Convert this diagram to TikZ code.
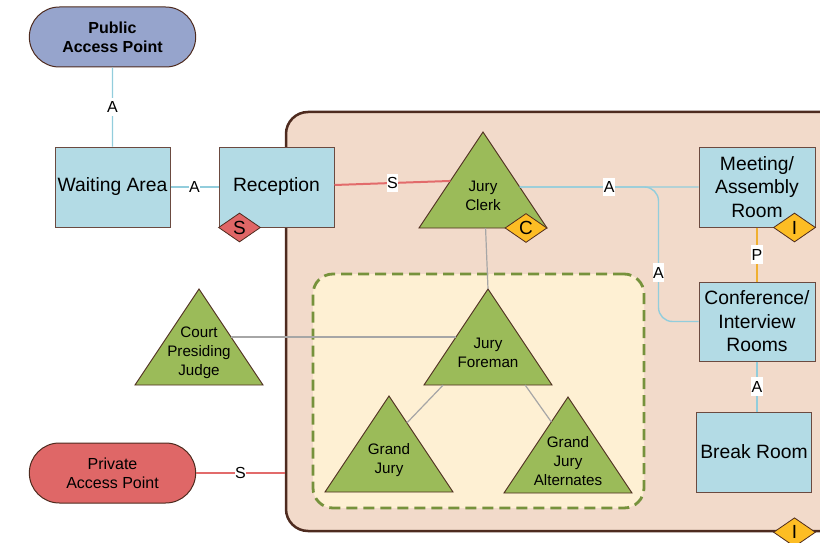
\documentclass[tikz,border=0pt]{standalone}
\usepackage{fontspec}
\setmainfont{Liberation Sans}
\usetikzlibrary{shapes.geometric,shapes.misc,calc}

\definecolor{roomfill}{HTML}{B3DBE5}
\definecolor{edgebrown}{HTML}{6B4A40}
\definecolor{darkbrown}{HTML}{4E2B1F}
\definecolor{zonefill}{HTML}{F2DACA}
\definecolor{juryfill}{HTML}{FEF0D3}
\definecolor{juryedge}{HTML}{76923C}
\definecolor{rolefill}{HTML}{9BBB59}
\definecolor{publicfill}{HTML}{96A4CC}
\definecolor{privatefill}{HTML}{DF6767}
\definecolor{flagred}{HTML}{E06666}
\definecolor{flagyellow}{HTML}{FDBD24}
\definecolor{linkblue}{HTML}{92CDDC}
\definecolor{linkred}{HTML}{E26B6B}
\definecolor{linkgray}{HTML}{A6A6A6}
\definecolor{linkorange}{HTML}{F0B030}

\tikzset{
  room/.style={draw=edgebrown, line width=1pt, fill=roomfill,
    minimum width=115pt, minimum height=80pt, inner sep=2pt, align=center,
    font=\fontsize{19.3}{23.5}\selectfont},
  access/.style={rounded rectangle, draw=darkbrown, line width=1pt,
    minimum width=173pt, minimum height=60pt, align=center,
    font=\fontsize{16}{19}\selectfont},
  zone/.style={draw=darkbrown, line width=2.5pt, fill=zonefill, rounded corners=22pt},
  pool/.style={draw=juryedge, line width=2.8pt, dash pattern=on 11pt off 6pt,
    fill=juryfill, rounded corners=20pt},
  role/.style={draw=darkbrown, line width=0.9pt, fill=rolefill, line join=miter},
  roletext/.style={align=center, font=\fontsize{15.2}{19}\selectfont, inner sep=0pt},
  flag/.style={diamond, draw=darkbrown, line width=0.8pt, minimum width=42pt,
    minimum height=29pt, aspect=1.45, inner sep=0pt,
    font=\fontsize{19}{19}\selectfont},
  lbl/.style={fill=white, text=black, inner xsep=0.5pt, inner ysep=3.5pt,
    font=\fontsize{16}{16}\selectfont},
  link/.style={line width=1.4pt},
  graylink/.style={line width=1.2pt, draw=linkgray}
}

% triangle role: name, apex x, apex y, label
\newcommand\rolebox[4]{%
  \coordinate (#1-top) at (#2,#3);
  \coordinate (#1-left) at (#2-64,#3+96);
  \coordinate (#1-right) at (#2+64,#3+96);
  \draw[role] (#1-top) -- (#1-right) -- (#1-left) -- cycle;
  \node[roletext] (#1) at (#2,#3+64) {#4};
}

\begin{document}
\begin{tikzpicture}[x=1pt,y=-1pt]
\useasboundingbox (0,0) rectangle (820,543);
\clip (0,0) rectangle (820,543);

% courthouse zone and jury pool
\node[zone, minimum width=594pt, minimum height=419pt] (court) at (583,321.5) {};
\node[pool, minimum width=331pt, minimum height=234pt] (pool) at (478.5,391) {};

% access points and rooms
\node[access, fill=publicfill, font={\fontsize{16}{19}\selectfont\bfseries}] (public) at (112.5,37) {Public\\Access Point};
\node[access, fill=privatefill] (private) at (112.5,473) {Private\\Access Point};
\node[room] (waiting) at (112.5,187) {Waiting Area};
\node[room] (reception) at (276.5,187) {Reception};
\node[room, minimum width=116pt] (meeting) at (757,187) {Meeting/\\Assembly\\Room};
\node[room, minimum width=116pt, minimum height=79pt] (conference) at (757,321.5) {Conference/\\Interview\\Rooms};
\node[room] (break) at (754,452) {Break Room};

% roles
\rolebox{clerk}{483}{132}{Jury\\Clerk}
\rolebox{judge}{199}{289}{Court\\Presiding\\Judge}
\rolebox{foreman}{488}{289}{Jury\\Foreman}
\rolebox{grand}{389}{396}{Grand\\Jury}
\rolebox{alternates}{568}{397}{Grand\\Jury\\Alternates}

% connectors
\draw[link, linkblue] (public) -- node[lbl] {A} (waiting);
\draw[link, linkblue] (waiting) -- node[lbl] {A} (reception);
\draw[link, linkred, line width=2pt] ($(reception.east)+(0,-2)$) -- node[lbl] {S} ($(clerk-top)!0.51!(clerk-left)$);
\coordinate (clerk-out) at ($(clerk-top)!0.573!(clerk-right)$);
\draw[link, linkblue, rounded corners=14pt] (clerk-out) -| ($(conference.west)+(-40,0)$) -- (conference.west);
\node[lbl] (lbl-conf) at ($(conference.west)+(-40,-49)$) {A};
\draw[link, linkblue] (clerk-out) -- node[lbl] {A} (meeting.west);
\draw[link, linkorange] (meeting) -- node[lbl] {P} (conference);
\draw[link, linkblue] (conference.south) -- node[lbl] {A} (conference.south |- break.north);
\draw[graylink] ($(clerk-left)!0.52!(clerk-right)$) -- (foreman-top);
\draw[graylink] ($(judge-top)!0.5!(judge-right)$) -- ($(foreman-top)!0.5!(foreman-left)$);
\draw[graylink] ($(foreman-left)!0.15!(foreman-right)$) -- ($(grand-top)!0.28!(grand-right)$);
\draw[graylink] ($(foreman-left)!0.79!(foreman-right)$) -- ($(alternates-top)!0.26!(alternates-left)$);
\draw[link, linkred] (private.east) -- node[lbl] {S} (private.east -| court.west);

% markers
\node[flag, fill=flagred] (flag-s) at ($(reception.south west)+(21,0)$) {S};
\node[flag, fill=flagyellow] (flag-c) at ($(clerk-right)+(-21,0)$) {C};
\node[flag, fill=flagyellow] (flag-i1) at ($(meeting.south east)+(-21,0)$) {I};
\node[flag, fill=flagyellow] (flag-i2) at ($(meeting.south east |- court.south)+(-21,0)$) {I};
\end{tikzpicture}
\end{document}
